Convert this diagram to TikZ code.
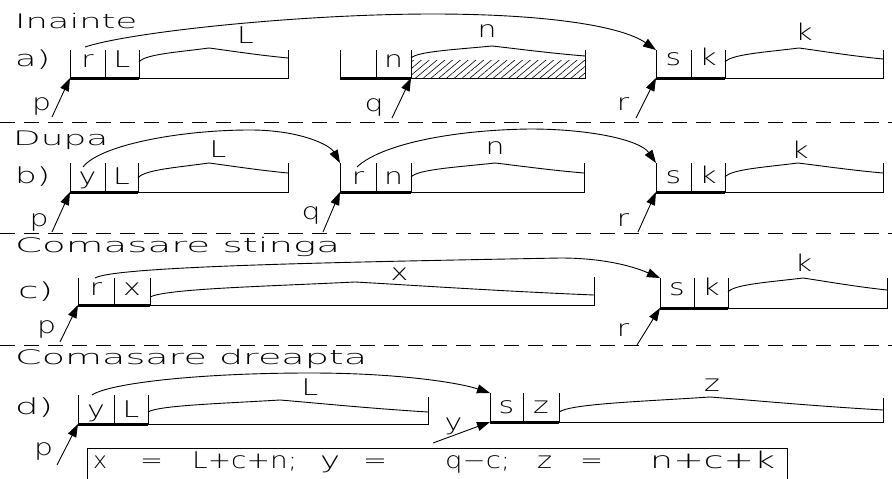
\documentclass[tikz,border=0pt]{standalone}
\usepackage{fontspec}
\IfFontExistsTF{DejaVu Sans ExtraLight}{\setmainfont{DejaVu Sans ExtraLight}}{\setmainfont{DejaVu Sans}}
\usepackage{graphicx}
\usetikzlibrary{arrows.meta,patterns.meta}
\newcommand\lfont{\fontsize{23}{23}\selectfont}
\newcommand\hfont{\fontsize{20}{20}\selectfont}
\newcommand\rfont{\fontsize{22}{22}\selectfont}
\newcommand\sx[1]{\scalebox{1.3}[1]{#1}}
\newcommand\fw[2]{\resizebox{#1pt}{\height}{#2}}
% block: name, xL, yTop, yBottom, divider1, divider2, xEnd, tickTop
\newcommand\memblk[8]{%
  \coordinate (#1bl) at (#2,#4);
  \coordinate (#1tl) at (#2,#3);
  \draw[ln] (#2,#3) -- (#2,#4);
  \draw[ln] (#5,#3) -- (#5,#4);
  \draw[ln] (#6,#3) -- (#6,#4);
  \draw[ln] (#6,#4) -- (#7,#4) -- (#7,#8);
  \draw[thk] (#2,#4) -- (#6,#4);
}
% brace: left, peak, right
\newcommand\brc[6]{%
  \draw[ln] (#1,#2) .. controls ({#1+0.08*(#3-#1)},{#2-0.55*(#2-#4)}) and ({#3-0.45*(#3-#1)},{#4+0.3*(#2-#4)}) .. (#3,#4)
     .. controls ({#3+0.2*(#5-#3)},{#4+0.2*(#6-#4)}) and ({#5-0.4*(#5-#3)},{#6-0.3*(#6-#4)}) .. (#5,#6);
}
\begin{document}
\begin{tikzpicture}[x=1pt,y=-1pt,
  ln/.style={line width=0.9pt},
  thk/.style={line width=3pt},
  dsh/.style={line width=0.9pt,dash pattern=on 15pt off 9pt},
  arr/.style={ln,-{Triangle[length=13pt,width=9pt]}},
  lt/.style={inner sep=0pt,font=\lfont},
  hd/.style={inner sep=0pt,font=\hfont,anchor=base west},
  rl/.style={inner sep=0pt,font=\rfont,anchor=base west},
  fm/.style={inner sep=0pt,font=\lfont,anchor=base west}]
\useasboundingbox (0,0) rectangle (892,479);
\fill[white] (0,0) rectangle (892,479);

% separators
\draw[dsh] (0,122) -- (892,122);
\draw[dsh] (0,233) -- (892,233);
\draw[dsh] (0,345) -- (892,345);

% headings and row labels
\node[hd] (hA) at (15,28) {\fw{122}{Inainte}};
\node[hd] (hB) at (13,145) {\fw{95}{Dupa}};
\node[hd] (hC) at (15,252) {\fw{325}{Comasare stinga}};
\node[hd] (hD) at (15,364) {\fw{352}{Comasare dreapta}};
\node[rl] (ra) at (15,66) {\fw{35}{a)}};
\node[rl] (rb) at (15,183) {\fw{35}{b)}};
\node[rl] (rc) at (18,298) {\fw{35}{c)}};
\node[rl] (rd) at (15,414) {\fw{38}{d)}};

% hatched free area
\fill[pattern={Lines[angle=40,distance=5pt,line width=0.6pt]}] (411,60) rectangle (585,78);

% blocks
\memblk{a1}{70}{50}{78}{105}{139}{288}{50}
\memblk{a2}{340}{50}{78}{376}{411}{585}{50}
\memblk{a3}{656}{50}{78}{691}{725}{883}{50}
\memblk{b1}{70}{163}{192}{105}{138}{288}{163}
\memblk{b2}{340}{163}{192}{376}{411}{584}{163}
\memblk{b3}{656}{163}{192}{691}{725}{883}{163}
\memblk{c1}{78}{278}{305}{114}{150}{594}{277}
\memblk{c3}{660}{278}{308}{694}{728}{887}{278}
\memblk{d1}{78}{395}{424}{114}{148}{428}{397}
\memblk{d2}{490}{393}{422}{523}{559}{883}{398}

% braces
\brc{139}{62}{209}{48}{288}{58}
\brc{411}{58}{492}{46}{585}{56}
\brc{725}{62}{799}{48}{883}{59}
\brc{138}{178}{209}{163}{288}{173}
\brc{411}{177}{495}{163}{584}{173}
\brc{725}{177}{798}{163}{883}{173}
\brc{150}{297}{355}{282}{594}{295}
\brc{728}{292}{803}{278}{887}{290}
\brc{148}{412}{280}{400}{428}{412}
\brc{559}{412}{710}{397}{883}{410}

% cell letters
\node[lt,anchor=base] (ca1a) at (87.5,67) {\sx{r}};
\node[lt,anchor=base] (ca1b) at (122,67) {\sx{L}};
\node[lt,anchor=base] (ca2b) at (393.5,67) {\sx{n}};
\node[lt,anchor=base] (ca3a) at (673.5,65) {\sx{s}};
\node[lt,anchor=base] (ca3b) at (708,65) {\sx{k}};
\node[lt,anchor=base] (cb1a) at (87.5,184) {\sx{y}};
\node[lt,anchor=base] (cb1b) at (121.5,184) {\sx{L}};
\node[lt,anchor=base] (cb2a) at (358,184) {\sx{r}};
\node[lt,anchor=base] (cb2b) at (393.5,184) {\sx{n}};
\node[lt,anchor=base] (cb3a) at (673.5,183) {\sx{s}};
\node[lt,anchor=base] (cb3b) at (708,183) {\sx{k}};
\node[lt,anchor=base] (cc1a) at (96,295) {\sx{r}};
\node[lt,anchor=base] (cc1b) at (132,295) {\sx{x}};
\node[lt,anchor=base] (cc3a) at (677,295) {\sx{s}};
\node[lt,anchor=base] (cc3b) at (711,295) {\sx{k}};
\node[lt,anchor=base] (cd1a) at (96,417) {\sx{y}};
\node[lt,anchor=base] (cd1b) at (131,417) {\sx{L}};
\node[lt,anchor=base] (cd2a) at (506.5,413) {\sx{s}};
\node[lt,anchor=base] (cd2b) at (541,413) {\sx{z}};

% brace labels
\node[lt] (la1) at (245.5,35.5) {\sx{L}};
\node[lt] (la2) at (487,31) {\sx{n}};
\node[lt] (la3) at (804,32) {\sx{k}};
\node[lt] (lb1) at (218,149) {\sx{L}};
\node[lt] (lb2) at (495,148.5) {\sx{n}};
\node[lt] (lb3) at (800,149.5) {\sx{k}};
\node[lt] (lc1) at (399.5,274) {\sx{x}};
\node[lt] (lc3) at (803.5,262.5) {\sx{k}};
\node[lt] (ld1) at (310,387) {\sx{L}};
\node[lt] (ld2) at (712,385) {\sx{z}};

% link arcs
\coordinate (a1s) at (85,47);
\coordinate (b1s) at (83,167);
\coordinate (b2s) at (357,167);
\coordinate (c1s) at (95,278);
\coordinate (d1s) at (92,395);
\draw[arr] (a1s) .. controls (130,32) and (300,14) .. (433,14) .. controls (540,14) and (620,25) .. (a3tl);
\draw[arr] (b1s) .. controls (100,145) and (180,130) .. (250,130) .. controls (300,130) and (330,145) .. (b2tl);
\draw[arr] (b2s) .. controls (380,145) and (450,130) .. (530,129) .. controls (590,129) and (640,140) .. (b3tl);
\draw[arr] (c1s) .. controls (115,266) and (350,262) .. (560,258) .. controls (600,258) and (630,265) .. (c3tl);
\draw[arr] (d1s) .. controls (110,383) and (200,373) .. (310,373) .. controls (400,373) and (460,383) .. (d2tl);

% pointers
\coordinate (pa) at (52,117);   \draw[arr] (pa) -- (a1bl);
\coordinate (qa) at (392,118);  \coordinate (qat) at (411,78); \draw[arr] (qa) -- (qat);
\coordinate (ra2) at (636,118); \draw[arr] (ra2) -- (a3bl);
\coordinate (pb) at (52,232);   \draw[arr] (pb) -- (b1bl);
\coordinate (qb) at (323,232);  \draw[arr] (qb) -- (b2bl);
\coordinate (rb2) at (638,232); \draw[arr] (rb2) -- (b3bl);
\coordinate (pc) at (60,342);   \draw[arr] (pc) -- (c1bl);
\coordinate (rc2) at (637,345); \draw[arr] (rc2) -- (c3bl);
\coordinate (pd) at (57,465);   \draw[arr] (pd) -- (d1bl);
\coordinate (yd) at (433,443);  \draw[arr] (yd) -- (d2bl);

% pointer labels
\node[lt] (tpa) at (41.5,106.5) {\sx{p}};
\node[lt] (tqa) at (374,107) {\sx{q}};
\node[lt] (tra) at (623,104.5) {\sx{r}};
\node[lt] (tpb) at (39,222) {\sx{p}};
\node[lt] (tqb) at (311,215.5) {\sx{q}};
\node[lt] (trb) at (623,220) {\sx{r}};
\node[lt] (tpc) at (46.5,329) {\sx{p}};
\node[lt] (trc) at (623,330.5) {\sx{r}};
\node[lt] (tpd) at (43.5,451) {\sx{p}};
\node[lt] (tyd) at (453.5,426) {\sx{y}};

% formula box
\draw[ln] (87,485) -- (87,448) -- (787,448) -- (787,485);
\node[fm] (f1) at (93,468) {\fw{14}{x}};
\node[fm] (f2) at (140,468) {\fw{23}{=}};
\node[fm] (f3) at (192,468) {\fw{105}{L+c+n;}};
\node[fm] (f4) at (320,468) {\fw{20}{y}};
\node[fm] (f5) at (363,468) {\fw{24}{=}};
\node[fm] (f6) at (445,468) {\fw{65}{q−c;}};
\node[fm] (f7) at (537,468) {\fw{15}{z}};
\node[fm] (f8) at (580,468) {\fw{23}{=}};
\node[fm] (f9) at (650,468) {\fw{125}{n+c+k}};
\end{tikzpicture}
\end{document}
